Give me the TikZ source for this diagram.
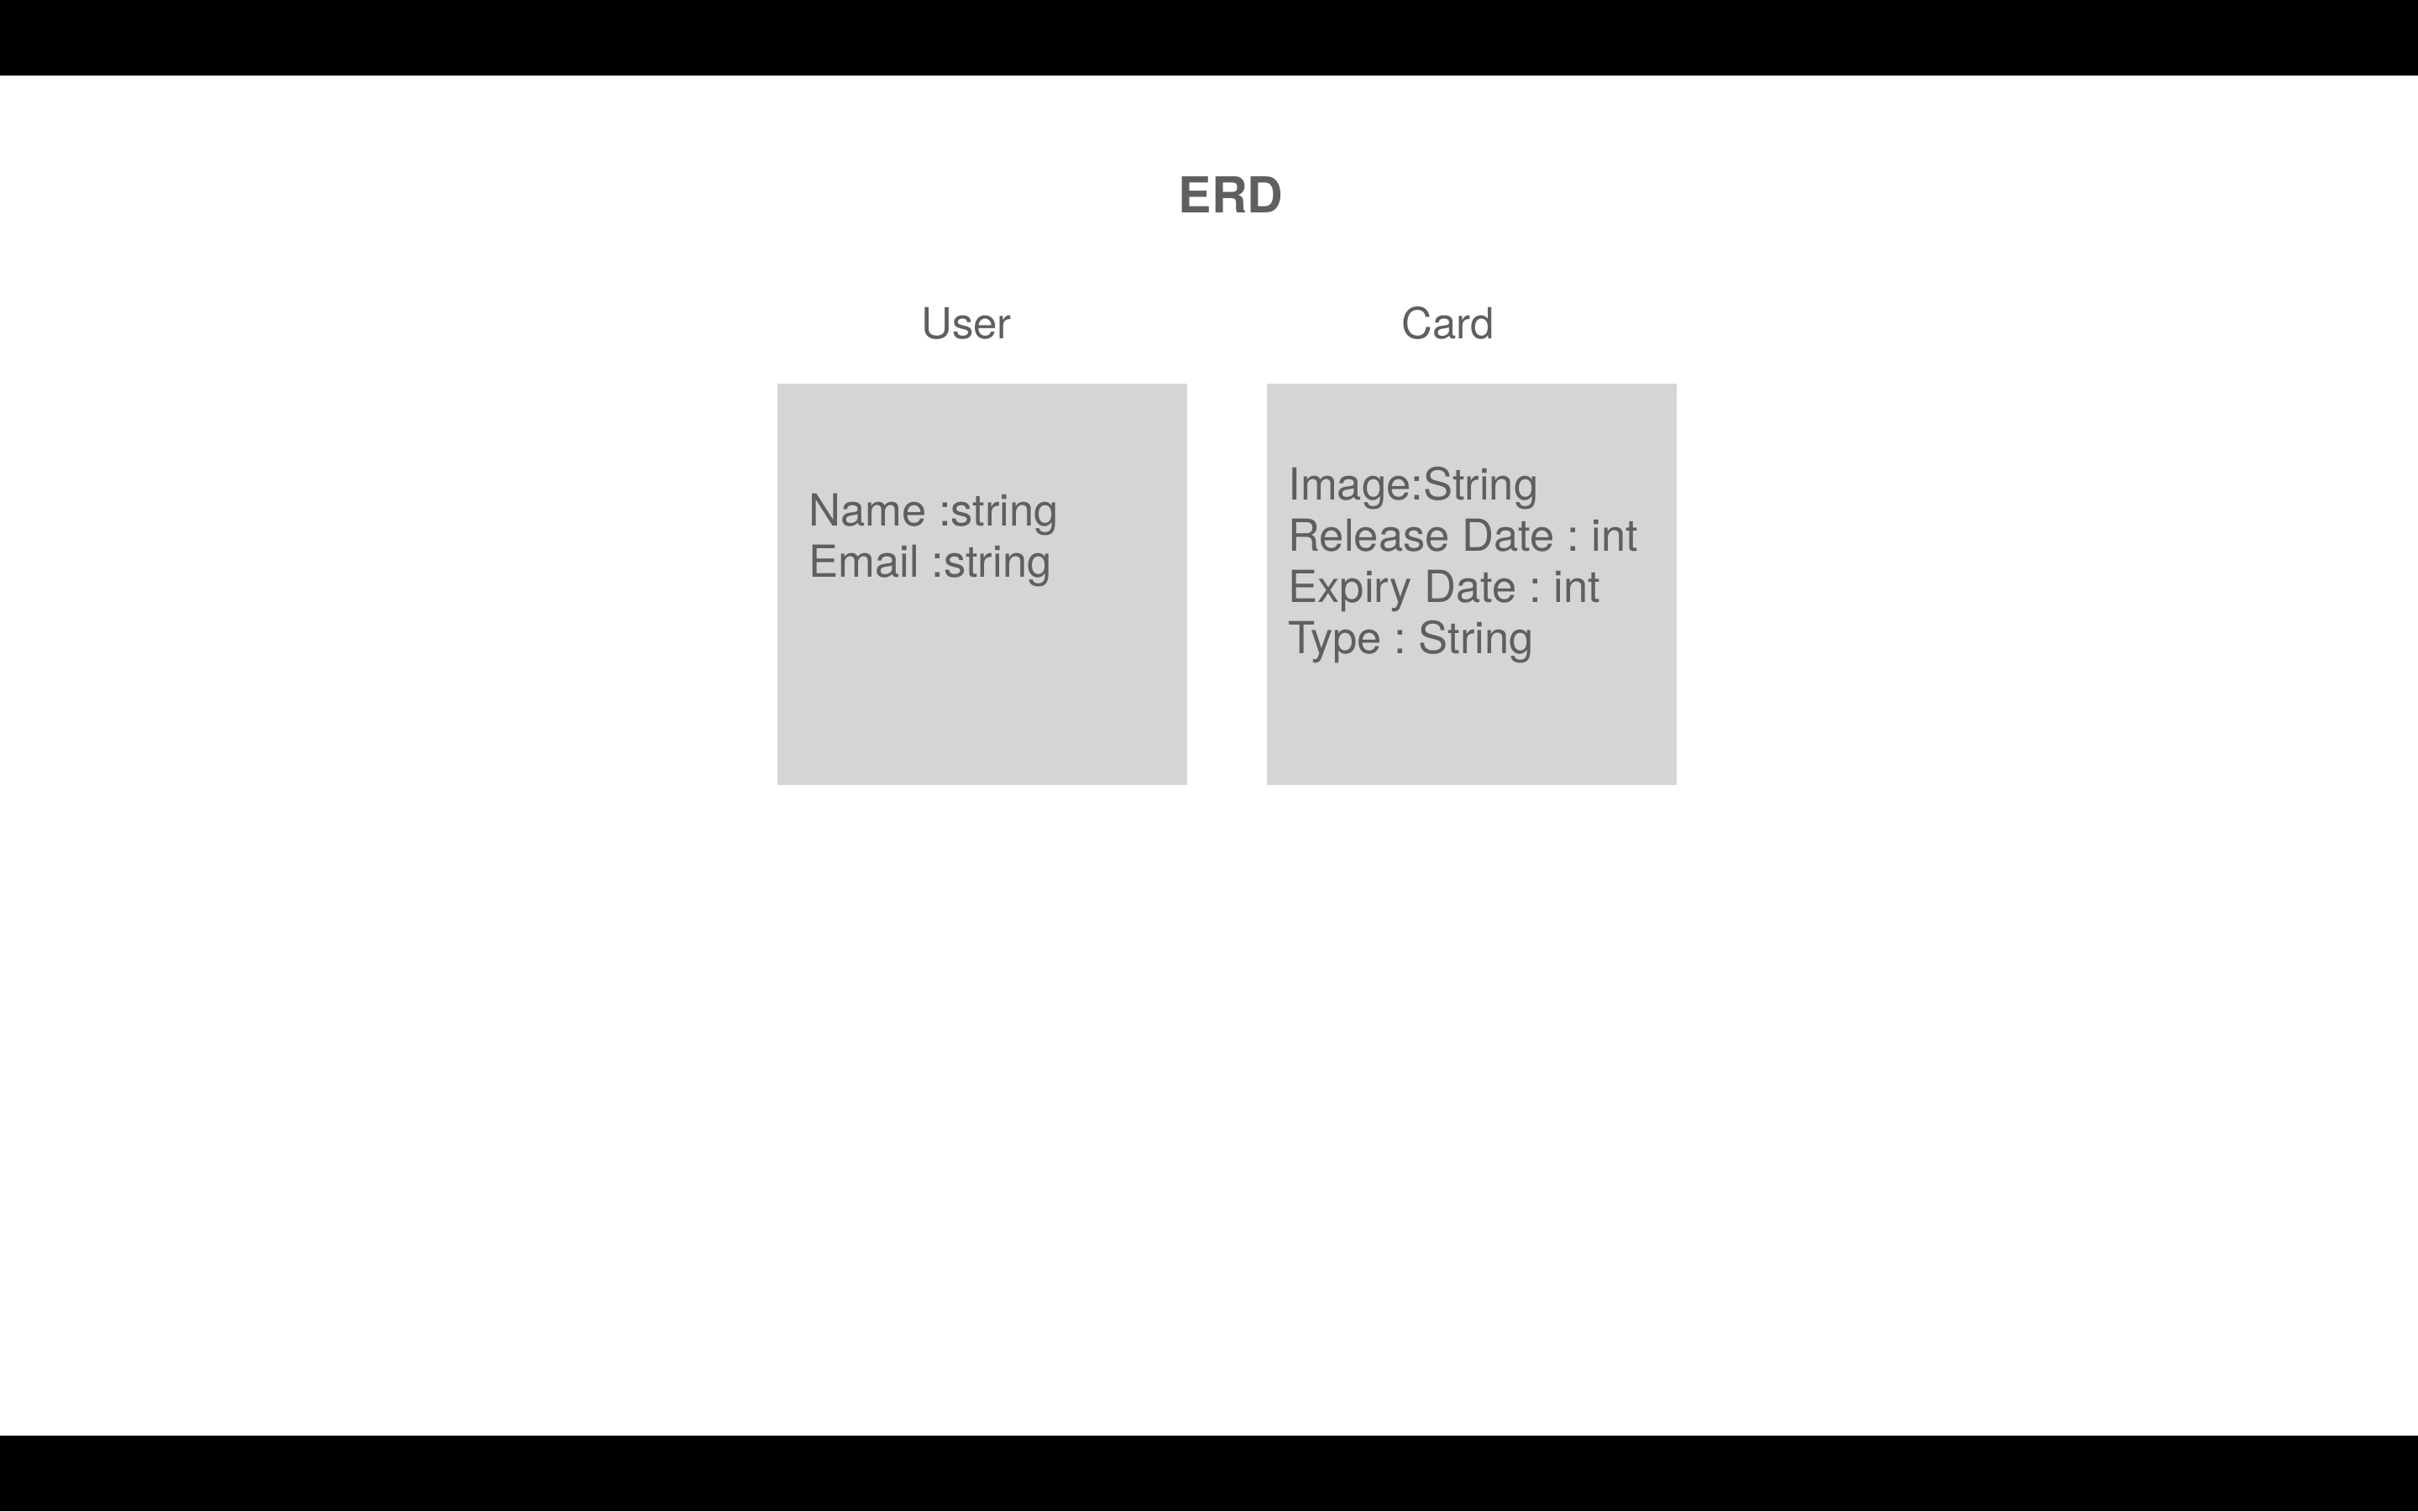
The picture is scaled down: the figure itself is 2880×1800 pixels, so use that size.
\documentclass[tikz,border=0pt]{standalone}
\usepackage{fontspec}
\setmainfont{TeX Gyre Heros}
\frenchspacing
\definecolor{txtgray}{HTML}{5F5F5F}
\definecolor{boxgray}{HTML}{D5D5D5}
\tikzset{
  bar/.style={fill=black, draw=none},
  entitybox/.style={fill=boxgray, draw=none, anchor=north west, inner sep=0pt},
  attrtext/.style={anchor=base west, inner sep=0pt, text=txtgray, font=\fontsize{26.3}{30.5}\selectfont},
  entlabel/.style={anchor=base, inner sep=0pt, text=txtgray, font=\fontsize{25.5}{30}\selectfont},
  titletext/.style={anchor=base, inner sep=0pt, text=txtgray, font=\fontsize{29.5}{34}\selectfont\bfseries}
}
\begin{document}
\begin{tikzpicture}[x=0.5pt, y=-0.5pt]
  \useasboundingbox (0,0) rectangle (2880,1800);
  \fill[white] (0,0) rectangle (2880,1800);
  % top and bottom bars
  \fill[bar] (0,0) rectangle (2880,90);
  \fill[bar] (0,1710) rectangle (2880,1800);
  % title
  \node[titletext] (title) at (1466,253) {ERD};
  % entity labels
  \node[entlabel] (userlabel) at (1151,403) {User};
  \node[entlabel] (cardlabel) at (1725,403) {Card};
  % entity boxes
  \node[entitybox, minimum width=244pt, minimum height=239pt] (userbox) at (926,457) {};
  \node[entitybox, minimum width=244pt, minimum height=239pt] (cardbox) at (1509,457) {};
  % attributes
  \node[attrtext] (userattrs) at (963,626)
    {\begin{tabular}[t]{@{}l@{}}Name :string\\Email :string\end{tabular}};
  \node[attrtext] (cardattrs) at (1534,595)
    {\begin{tabular}[t]{@{}l@{}}Image:String\\Release Date : int\\Expiry Date : int\\Type : String\end{tabular}};
\end{tikzpicture}
\end{document}
